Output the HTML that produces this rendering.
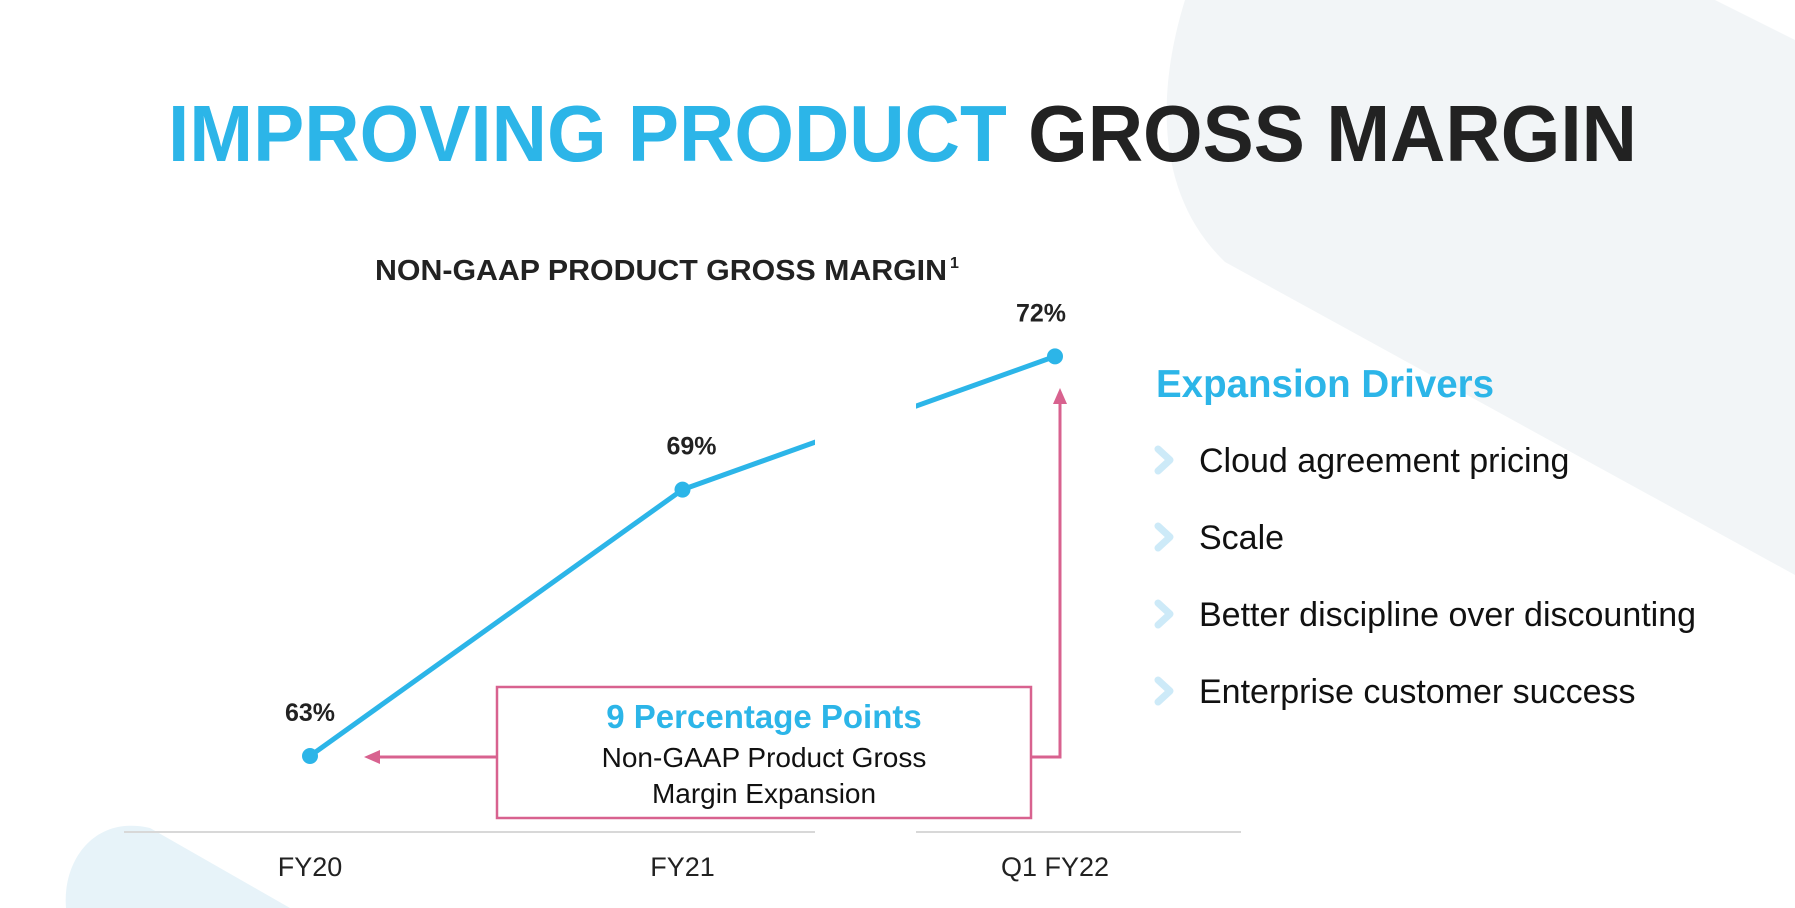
<!DOCTYPE html>
<html><head><meta charset="utf-8"><style>
html,body{margin:0;padding:0;background:#fff;}
svg{display:block;font-family:"Liberation Sans",Arial,sans-serif;}
</style></head><body>
<svg id="chart" width="1795" height="908" viewBox="0 0 1795 908" xmlns="http://www.w3.org/2000/svg">
  <path d="M1185 0 C1160 80 1150 190 1225 262 L1795 575 L1795 0 Z" fill="#f2f5f7"/>
  <path d="M1715 0 L1795 0 L1795 40 Z" fill="#fff"/>
  <path d="M66 908 C62 860 95 815 150 828 L290 908 Z" fill="#e7f3f9"/>
  <text x="168" y="161" font-size="80" font-weight="bold" textLength="1469" lengthAdjust="spacingAndGlyphs"><tspan fill="#2cb5e8">IMPROVING PRODUCT </tspan><tspan fill="#222">GROSS MARGIN</tspan></text>
  <text x="375" y="280" font-size="29" font-weight="bold" fill="#222" textLength="572" lengthAdjust="spacingAndGlyphs">NON-GAAP PRODUCT GROSS MARGIN</text>
  <text x="950" y="268" font-size="16" font-weight="bold" fill="#222">1</text>
  <g id="axis"></g>
  <g id="series"></g>
  <rect x="497" y="687" width="534" height="131" fill="#fff" stroke="#d8628f" stroke-width="2.5"/>
  <text x="764" y="728" font-size="33" font-weight="bold" fill="#2cb5e8" text-anchor="middle">9 Percentage Points</text>
  <text x="764" y="767" font-size="28" fill="#111" text-anchor="middle">Non-GAAP Product Gross</text>
  <text x="764" y="803" font-size="28" fill="#111" text-anchor="middle">Margin Expansion</text>
  <path d="M497 757 L372 757" stroke="#d8628f" stroke-width="3" fill="none"/>
  <path d="M364 757 L380 750 L380 764 Z" fill="#d8628f"/>
  <path d="M1031 757 L1060 757 L1060 398" stroke="#d8628f" stroke-width="3" fill="none"/>
  <path d="M1060 388 L1053 404 L1067 404 Z" fill="#d8628f"/>
  <text x="1156" y="397" font-size="38.5" font-weight="bold" fill="#2cb5e8">Expansion Drivers</text>
  <g id="drivers"></g>
</svg>
<script>
const categories = ["FY20", "FY21", "Q1 FY22"];
const marginValues = [63, 69, 72];
const valueLabels = ["63%", "69%", "72%"];
const drivers = ["Cloud agreement pricing", "Scale", "Better discipline over discounting", "Enterprise customer success"];

const NS = "http://www.w3.org/2000/svg";
const xPos = i => 310 + i * 372.5;
const yPos = v => 756 - (v - 63) * 44.4;
function mk(tag, attrs, parent) {
  const e = document.createElementNS(NS, tag);
  for (const k in attrs) e.setAttribute(k, attrs[k]);
  parent.appendChild(e);
  return e;
}
const axis = document.getElementById("axis");
const series = document.getElementById("series");
const drv = document.getElementById("drivers");

const a1 = mk("line", {x1:124, y1:832, x2:815, y2:832, stroke:"#d8d8d8", "stroke-width":2}, axis);


const a2 = mk("line", {x1:916, y1:832, x2:1241, y2:832, stroke:"#d8d8d8", "stroke-width":2}, axis);



categories.forEach((c, i) => {
  const t = mk("text", {x:xPos(i), y:876, "font-size":27, fill:"#222", "text-anchor":"middle"}, axis);
  t.textContent = c;
  
  
});

for (let i = 0; i < marginValues.length - 1; i++) {
  const l = mk("line", {x1:xPos(i), y1:yPos(marginValues[i]), x2:xPos(i+1), y2:yPos(marginValues[i+1]), stroke:"#2cb5e8", "stroke-width":5}, series);
  
  
}
const gap = mk("rect", {x:815, y:300, width:101, height:230, fill:"#fff"}, series);



marginValues.forEach((v, i) => {
  const c = mk("circle", {cx:xPos(i), cy:yPos(v), r:8, fill:"#2cb5e8"}, series);
  
  
  const dx = i === 2 ? -14 : (i === 1 ? 9 : 0);
  const t = mk("text", {x:xPos(i) + dx, y:yPos(v) - 35, "font-size":25, "font-weight":"bold", fill:"#222", "text-anchor":"middle"}, series);
  t.textContent = valueLabels[i];
  
  
});

drivers.forEach((d, i) => {
  const y = 460 + i * 77;
  const ch = mk("path", {d:`M${1158} ${y-11} L${1170} ${y} L${1158} ${y+11}`, stroke:"#cdeaf8", "stroke-width":7, fill:"none", "stroke-linecap":"round", "stroke-linejoin":"round"}, drv);
  
  
  const t = mk("text", {x:1199, y:y + 12, "font-size":34, fill:"#111"}, drv);
  t.textContent = d;
  
  
});
</script>
</body></html>
